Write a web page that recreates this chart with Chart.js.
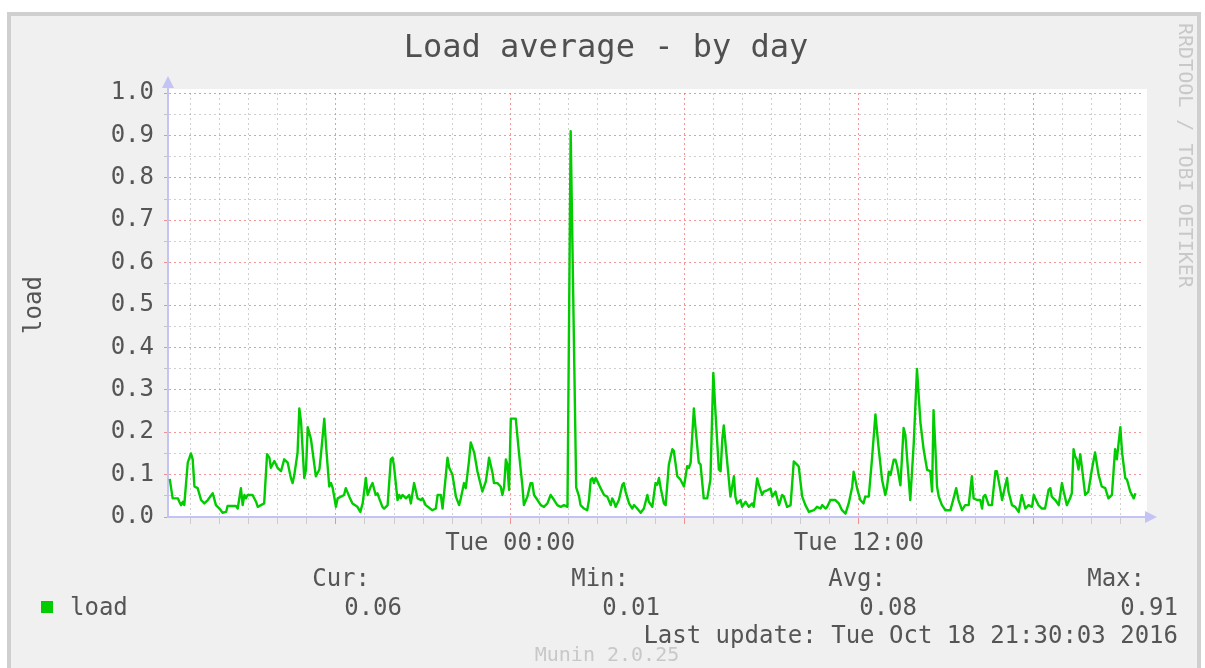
<!DOCTYPE html>
<html>
<head>
<meta charset="utf-8">
<title>Load average - by day</title>
<script src="https://cdn.jsdelivr.net/npm/chart.js@4.4.1/dist/chart.umd.min.js"></script>
<style>
  html, body { margin: 0; padding: 0; background: #fff; width: 1205px; height: 668px; overflow: hidden; position: relative; }
  #frame { position: absolute; left: 7px; top: 12px; width: 1186px; height: 700px; background: #f0f0f0; border: 4px solid #cfcfcf; }
  #chart { position: absolute; left: 0; top: 0; }
  .txt { position: absolute; font-family: 'DejaVu Sans Mono', monospace; line-height: 1; white-space: pre; color: #555; }
</style>
</head>
<body>
<div id="frame"></div>
<canvas id="chart" width="1205" height="668"></canvas>
<script>
// hours relative to Tue 00:00
const hours = [
  -11.72, -11.62, -11.44, -11.39, -11.33, -11.27, -11.22, -11.10, -10.99, -10.93,
  -10.87, -10.76, -10.64, -10.53, -10.41, -10.24, -10.13, -10.01, -9.90, -9.78,
  -9.73, -9.44, -9.38, -9.27, -9.21, -9.15, -9.10, -9.04, -8.87, -8.75,
  -8.69, -8.47, -8.37, -8.29, -8.24, -8.12, -8.01, -7.89, -7.78, -7.66,
  -7.55, -7.49, -7.43, -7.32, -7.26, -7.20, -7.09, -7.03, -6.97, -6.86,
  -6.69, -6.57, -6.52, -6.40, -6.34, -6.23, -6.17, -6.11, -6.00, -5.94,
  -5.72, -5.66, -5.54, -5.43, -5.26, -5.16,
  -5.08, -4.97, -4.91, -4.80, -4.74, -4.63, -4.57, -4.51, -4.40, -4.34,
  -4.22, -4.11, -4.05, -4.00, -3.88, -3.82, -3.77, -3.71, -3.59, -3.48,
  -3.42, -3.31, -3.19, -3.08, -3.02, -2.91, -2.68, -2.56, -2.50, -2.39,
  -2.33, -2.22, -2.16, -2.10, -1.99, -1.87, -1.76, -1.70, -1.59, -1.53,
  -1.42, -1.36, -1.24, -1.13, -0.96, -0.84, -0.78, -0.73, -0.61, -0.56,
  -0.44, -0.33, -0.27, -0.21, -0.15, -0.10, -0.04, 0.02, 0.19, 0.30,
  0.42, 0.47, 0.59, 0.70, 0.76, 0.82, 0.94, 1.05,
  1.16, 1.28, 1.39, 1.51, 1.62, 1.74, 1.85, 1.97, 2.08, 2.27,
  2.37, 2.42, 2.54, 2.65, 2.71, 2.77, 2.83, 2.88, 2.94, 3.00,
  3.11, 3.23, 3.34, 3.46, 3.51, 3.57, 3.63, 3.74, 3.86, 3.91,
  3.97, 4.09, 4.20, 4.26, 4.37, 4.49, 4.60, 4.72, 4.77, 4.89,
  5.00, 5.06, 5.12, 5.18, 5.29, 5.35, 5.46, 5.58, 5.63, 5.75,
  5.86, 5.98, 6.09, 6.15, 6.21, 6.32, 6.38, 6.49, 6.55, 6.66,
  6.78, 6.89, 6.99, 7.07, 7.18, 7.24, 7.30, 7.35, 7.47, 7.58, 7.70,
  7.75, 7.81, 7.93, 7.98, 8.10, 8.21, 8.33, 8.38, 8.50, 8.56,
  8.67, 8.73, 8.84, 8.96, 9.02, 9.13, 9.25, 9.36, 9.42, 9.53,
  9.65, 9.76, 9.88, 9.93, 10.05, 10.16, 10.28, 10.45, 10.56, 10.68,
  10.74, 10.85, 10.91, 11.02, 11.19, 11.31, 11.42, 11.54, 11.65, 11.77,
  11.82, 11.94, 12.05, 12.16, 12.22, 12.34, 12.45, 12.57, 12.68, 12.80,
  12.91, 12.97, 13.03, 13.09, 13.20, 13.26, 13.32, 13.43, 13.54, 13.60,
  13.77, 13.89, 14.00, 14.12, 14.23, 14.35,
  14.46, 14.52, 14.57, 14.63, 14.69, 14.75, 14.86, 14.98, 15.15, 15.26,
  15.35, 15.43, 15.55, 15.66, 15.78, 15.89, 15.95, 16.07, 16.18, 16.24,
  16.29, 16.35, 16.47, 16.58, 16.70, 16.75, 16.87, 16.93, 16.98, 17.10,
  17.15, 17.27, 17.38, 17.50, 17.61, 17.73, 17.84, 17.96, 18.02, 18.07,
  18.18, 18.30, 18.41, 18.53, 18.59, 18.64, 18.76, 18.88, 18.99, 19.05,
  19.16, 19.27, 19.33, 19.39, 19.44, 19.50, 19.56, 19.62, 19.68, 19.79,
  19.90, 20.02, 20.13, 20.25, 20.36, 20.48, 20.59, 20.71, 20.82, 20.88,
  21.00, 21.06, 21.17, 21.23, 21.34, 21.46, 21.52
];

const load = [
  0.090, 0.044, 0.044, 0.036, 0.028, 0.036, 0.028, 0.128, 0.150, 0.136,
  0.072, 0.068, 0.040, 0.032, 0.040, 0.056, 0.028, 0.020, 0.010, 0.012,
  0.026, 0.026, 0.020, 0.068, 0.028, 0.052, 0.044, 0.052, 0.052, 0.036,
  0.024, 0.032, 0.148, 0.140, 0.116, 0.132, 0.116, 0.108, 0.136, 0.128,
  0.092, 0.080, 0.100, 0.152, 0.256, 0.224, 0.092, 0.112, 0.212, 0.184,
  0.096, 0.112, 0.144, 0.232, 0.168, 0.072, 0.080, 0.068, 0.024, 0.044,
  0.052, 0.068, 0.048, 0.032, 0.024, 0.012,
  0.032, 0.092, 0.052, 0.072, 0.080, 0.052, 0.056, 0.044, 0.024, 0.020,
  0.028, 0.136, 0.140, 0.120, 0.040, 0.052, 0.044, 0.052, 0.044, 0.052,
  0.032, 0.080, 0.044, 0.040, 0.044, 0.028, 0.016, 0.020, 0.052, 0.052,
  0.020, 0.096, 0.140, 0.116, 0.100, 0.048, 0.028, 0.044, 0.080, 0.068,
  0.132, 0.176, 0.152, 0.108, 0.060, 0.084, 0.112, 0.140, 0.104, 0.080,
  0.080, 0.072, 0.052, 0.072, 0.136, 0.124, 0.064, 0.232, 0.232, 0.152,
  0.072, 0.028, 0.048, 0.080, 0.080, 0.052, 0.040, 0.028,
  0.024, 0.032, 0.052, 0.040, 0.028, 0.024, 0.028, 0.024, 0.910, 0.070,
  0.048, 0.028, 0.020, 0.016, 0.040, 0.088, 0.092, 0.080, 0.092, 0.084,
  0.068, 0.052, 0.048, 0.028, 0.044, 0.036, 0.024, 0.040, 0.076, 0.080,
  0.060, 0.032, 0.020, 0.028, 0.020, 0.010, 0.020, 0.052, 0.036, 0.024,
  0.080, 0.076, 0.092, 0.068, 0.032, 0.028, 0.124, 0.160, 0.156, 0.096,
  0.088, 0.072, 0.120, 0.116, 0.128, 0.256, 0.208, 0.128, 0.124, 0.044,
  0.044, 0.088, 0.340, 0.240, 0.112, 0.108, 0.184, 0.216, 0.128, 0.048, 0.096,
  0.048, 0.032, 0.040, 0.024, 0.036, 0.024, 0.032, 0.024, 0.091, 0.075,
  0.052, 0.060, 0.063, 0.067, 0.048, 0.060, 0.028, 0.052, 0.048, 0.024,
  0.028, 0.131, 0.123, 0.119, 0.048, 0.028, 0.012, 0.016, 0.024, 0.020,
  0.028, 0.020, 0.024, 0.040, 0.040, 0.032, 0.016, 0.008, 0.032, 0.071,
  0.107, 0.067, 0.040, 0.032, 0.048, 0.048, 0.135, 0.242, 0.163, 0.087,
  0.052, 0.071, 0.107, 0.099, 0.135, 0.135, 0.119, 0.075, 0.210, 0.194,
  0.040, 0.175, 0.349, 0.222, 0.159, 0.111,
  0.108, 0.060, 0.252, 0.168, 0.072, 0.048, 0.028, 0.016, 0.016, 0.044,
  0.068, 0.040, 0.016, 0.028, 0.028, 0.096, 0.044, 0.040, 0.040, 0.020,
  0.048, 0.052, 0.028, 0.028, 0.108, 0.108, 0.064, 0.040, 0.056, 0.092,
  0.060, 0.028, 0.024, 0.012, 0.052, 0.020, 0.028, 0.024, 0.052, 0.044,
  0.028, 0.020, 0.020, 0.064, 0.068, 0.048, 0.040, 0.028, 0.080, 0.060,
  0.028, 0.044, 0.056, 0.160, 0.144, 0.136, 0.112, 0.148, 0.116, 0.052,
  0.060, 0.112, 0.152, 0.100, 0.072, 0.068, 0.044, 0.052, 0.160, 0.136,
  0.212, 0.152, 0.092, 0.088, 0.060, 0.044, 0.056
];

const xLabels = { 0: 'Tue 00:00', 12: 'Tue 12:00' };
const statNames = ['Cur:', 'Min:', 'Avg:', 'Max:'];
const statValues = ['0.06', '0.01', '0.08', '0.91'];
const lastUpdate = 'Last update: Tue Oct 18 21:30:03 2016';

const AXIS = '#c4c4f4';
const RED = 'rgba(240, 80, 80, 0.6)';
const GRAY = 'rgba(160, 160, 160, 0.5)';

function addText(text, x, y, size, align, color) {
  const d = document.createElement('div');
  d.className = 'txt';
  d.textContent = text;
  d.style.fontSize = size + 'px';
  d.style.top = (y - size * 0.484) + 'px';
  if (color) d.style.color = color;
  if (align === 'right') d.style.right = (1205 - x) + 'px';
  else if (align === 'center') { d.style.left = x + 'px'; d.style.transform = 'translateX(-50%)'; }
  else d.style.left = x + 'px';
  document.body.appendChild(d);
  return d;
}

// texts around the graph
addText('Load average - by day', 606, 45, 32, 'center', '#505050');
const sq = document.createElement('div');
sq.style.cssText = 'position:absolute;left:41px;top:601px;width:12px;height:12px;background:#00cc00';
document.body.appendChild(sq);
addText('load', 70, 607, 24, 'left');
const nameX = [370, 629, 886, 1145];
const valueX = [402, 660, 917, 1178];
statNames.forEach((s, i) => addText(s, nameX[i], 578, 24, 'right'));
statValues.forEach((s, i) => addText(s, valueX[i], 607, 24, 'right'));
addText(lastUpdate, 1178, 635, 24, 'right');
addText('Munin 2.0.25', 607, 654, 20, 'center', '#c8c8c8');
const side = addText('RRDTOOL / TOBI OETIKER', 1176, 33, 20, 'left', '#c8c8c8');
side.style.writingMode = 'vertical-rl';
side.style.top = '23px';

Chart.defaults.font.family = "'DejaVu Sans Mono', monospace";

const muninPlugin = {
  id: 'munin',
  beforeDraw(chart) {
    const { ctx, chartArea: a } = chart;
    ctx.save();
    ctx.fillStyle = '#fff';
    ctx.fillRect(a.left, a.top - 4, a.right - a.left + 4, a.bottom - a.top + 4);
    ctx.restore();
  },
  afterDraw(chart) {
    const { ctx, chartArea: a } = chart;
    ctx.save();
    ctx.strokeStyle = AXIS;
    ctx.fillStyle = AXIS;
    ctx.lineWidth = 2;
    ctx.beginPath();
    ctx.moveTo(a.left, a.top);
    ctx.lineTo(a.left, a.top - 6);
    ctx.moveTo(a.right, a.bottom);
    ctx.lineTo(a.right + 4, a.bottom);
    ctx.stroke();
    ctx.beginPath();
    ctx.moveTo(a.left - 6, a.top - 5);
    ctx.lineTo(a.left + 6, a.top - 5);
    ctx.lineTo(a.left, a.top - 17);
    ctx.closePath();
    ctx.fill();
    ctx.beginPath();
    ctx.moveTo(a.right + 2, a.bottom - 6);
    ctx.lineTo(a.right + 2, a.bottom + 6);
    ctx.lineTo(a.right + 14, a.bottom);
    ctx.closePath();
    ctx.fill();
    ctx.restore();
  }
};

new Chart(document.getElementById('chart'), {
  type: 'line',
  data: {
    datasets: [{
      label: 'load',
      data: hours.map((h, i) => ({ x: h, y: load[i] })),
      borderColor: '#00cc00',
      borderWidth: 2.4,
      pointRadius: 0,
      tension: 0,
      fill: false,
      borderJoinStyle: 'round'
    }]
  },
  options: {
    responsive: false,
    animation: false,
    layout: { padding: { left: 0, right: 62, top: 93, bottom: 101 } },
    plugins: { legend: { display: false }, tooltip: { enabled: false } },
    scales: {
      x: {
        type: 'linear',
        min: -11.78,
        max: 21.78,
        afterFit: s => { s.height = 50; },
        ticks: {
          stepSize: 1,
          autoSkip: false,
          maxRotation: 0,
          includeBounds: false,
          padding: 5,
          color: '#555',
          font: { size: 24 },
          callback: v => xLabels[Math.round(v)] || ''
        },
        grid: {
          color: c => Math.round(c.tick.value) % 6 === 0 ? RED : GRAY,
          tickColor: c => Math.round(c.tick.value) % 6 === 0 ? RED : 'rgba(150,150,150,0.4)',
          lineWidth: 1,
          tickLength: 7
        },
        border: { color: AXIS, width: 2, dash: [2, 3] }
      },
      y: {
        min: 0,
        max: 1,
        afterFit: s => { s.width = 168; },
        ticks: {
          stepSize: 0.05,
          autoSkip: false,
          padding: 10,
          color: '#555',
          font: { size: 24 },
          callback: v => Math.round(v * 100) % 10 === 0 ? v.toFixed(1) : ''
        },
        grid: {
          color: c => {
            const k = Math.round(c.tick.value * 100);
            if (k === 0) return 'rgba(0,0,0,0)';
            return k % 10 === 0 ? RED : GRAY;
          },
          tickColor: c => Math.round(c.tick.value * 100) % 10 === 0 ? RED : 'rgba(150,150,150,0.5)',
          lineWidth: 1,
          tickLength: 4
        },
        border: { color: AXIS, width: 2, dash: [2, 3] },
        title: {
          display: true,
          text: 'load',
          color: '#555',
          font: { size: 24 },
          padding: { top: 20, bottom: 0 }
        }
      }
    }
  },
  plugins: [muninPlugin]
});
</script>
</body>
</html>
